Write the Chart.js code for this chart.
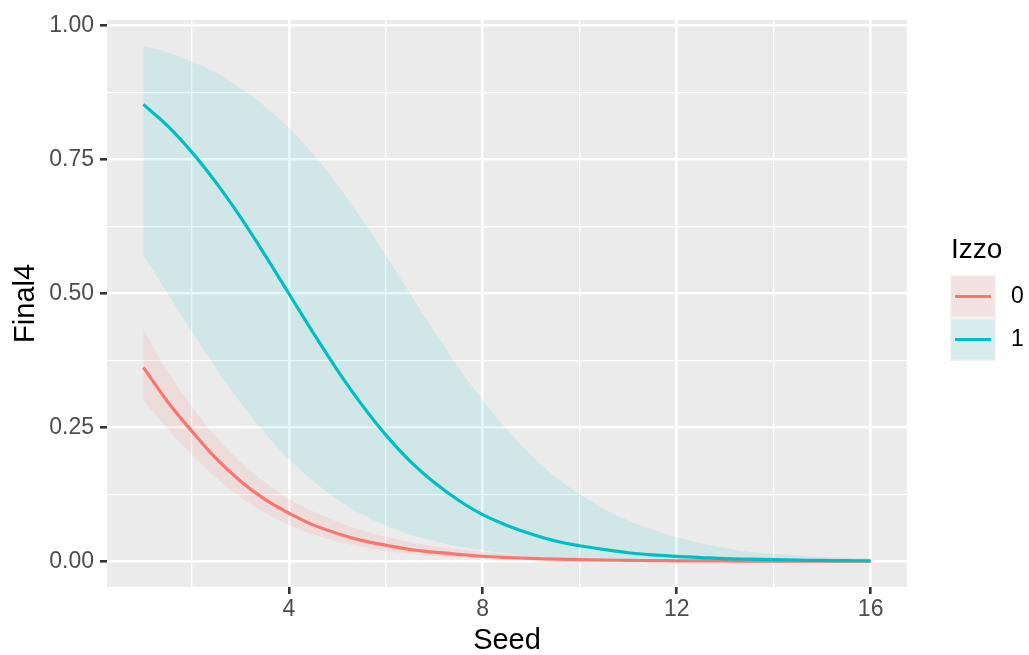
<!DOCTYPE html>
<html>
<head>
<meta charset="utf-8">
<script src="https://cdn.jsdelivr.net/npm/chart.js@4"></script>
<style>
  body { margin: 0; background: #ffffff; }
</style>
</head>
<body>
<canvas id="chart" width="1029" height="655"></canvas>
<script>
// Seed values the curves are drawn at
const seed = [1, 1.5, 2, 2.5, 3, 3.5, 4, 4.5, 5, 5.5, 6, 6.5, 7, 7.5, 8, 8.5,
  9, 9.5, 10, 10.5, 11, 11.5, 12, 12.5, 13, 13.5, 14, 14.5, 15, 15.5, 16]

// Izzo = 0
const fit0 = [0.362, 0.298, 0.243, 0.192, 0.150, 0.116, 0.090, 0.068, 0.052, 0.039, 0.030, 0.022,
  0.017, 0.013, 0.0094, 0.0071, 0.0053, 0.0040, 0.0030, 0.0022, 0.0017, 0.0013, 0.0009, 0.0007,
  0.0005, 0.0004, 0.0003, 0.0002, 0.0002, 0.0001, 0.0001]
const low0 = [0.300, 0.247, 0.199, 0.156, 0.120, 0.091, 0.068, 0.050, 0.037, 0.027, 0.019, 0.014,
  0.010, 0.007, 0.005, 0.0036, 0.0026, 0.0018, 0.0013, 0.0009, 0.0006, 0.0005, 0.0003, 0.0002,
  0.0002, 0.0001, 0.0001, 0, 0, 0, 0]
const high0 = [0.433, 0.354, 0.289, 0.232, 0.185, 0.148, 0.117, 0.093, 0.074, 0.058, 0.046, 0.036,
  0.028, 0.022, 0.018, 0.014, 0.011, 0.0085, 0.0067, 0.0053, 0.0041, 0.0032, 0.0025, 0.0020,
  0.0016, 0.0012, 0.0010, 0.0008, 0.0006, 0.0005, 0.0004]

// Izzo = 1
const fit1 = [0.853, 0.813, 0.764, 0.707, 0.643, 0.573, 0.500, 0.427, 0.357, 0.293, 0.236, 0.187,
  0.147, 0.114, 0.087, 0.067, 0.051, 0.038, 0.029, 0.022, 0.016, 0.012, 0.009, 0.007,
  0.005, 0.004, 0.003, 0.002, 0.0016, 0.0012, 0.0009]
const low1 = [0.572, 0.500, 0.429, 0.361, 0.297, 0.240, 0.191, 0.150, 0.116, 0.088, 0.067, 0.050,
  0.038, 0.028, 0.021, 0.015, 0.011, 0.008, 0.006, 0.0044, 0.0032, 0.0024, 0.0017, 0.0012,
  0.0009, 0.0007, 0.0005, 0.0004, 0.0003, 0.0002, 0.0001]
const high1 = [0.962, 0.950, 0.933, 0.912, 0.884, 0.850, 0.809, 0.760, 0.703, 0.639, 0.571, 0.500,
  0.430, 0.362, 0.301, 0.246, 0.198, 0.158, 0.125, 0.098, 0.076, 0.059, 0.045, 0.034,
  0.025, 0.018, 0.014, 0.011, 0.008, 0.0065, 0.005]

const xTicks = [2, 4, 6, 8, 10, 12, 14, 16]
const yTicks = [0, 0.125, 0.25, 0.375, 0.5, 0.625, 0.75, 0.875, 1]
const groups = ['0', '1']

const red = '#F8766D'
const teal = '#00BFC4'
const redBand = 'rgba(248,118,109,0.12)'
const tealBand = 'rgba(0,191,196,0.11)'

const pts = arr => arr.map((v, i) => ({x: seed[i], y: v}))

Chart.defaults.font.family = "'Liberation Sans', Arial, sans-serif"

const isMajorX = v => v % 4 === 0
const isMajorY = v => Math.abs(v * 4 - Math.round(v * 4)) < 1e-9

const panelBg = {
  id: 'panelBg',
  beforeDraw(chart) {
    const {ctx, chartArea: a} = chart
    ctx.save()
    ctx.fillStyle = '#EBEBEB'
    ctx.fillRect(a.left, a.top, a.right - a.left, a.bottom - a.top)
    ctx.restore()
  }
}

// ggplot style legend on the right
const sideLegend = {
  id: 'sideLegend',
  afterDraw(chart) {
    const ctx = chart.ctx
    ctx.save()
    ctx.fillStyle = '#000000'
    ctx.font = "28px 'Liberation Sans', Arial, sans-serif"
    ctx.textBaseline = 'alphabetic'
    ctx.textAlign = 'left'
    ctx.fillText('Izzo', 951, 258)
    const cols = [red, teal]
    const bands = [redBand, tealBand]
    groups.forEach((g, i) => {
      const top = 275 + i * 43
      ctx.fillStyle = '#F2F2F2'
      ctx.fillRect(950, top, 46, 43)
      ctx.fillStyle = bands[i]
      ctx.fillRect(951.5, top + 1.5, 43, 40)
      ctx.strokeStyle = cols[i]
      ctx.lineWidth = 3.2
      ctx.beginPath()
      ctx.moveTo(955, top + 21.5)
      ctx.lineTo(991, top + 21.5)
      ctx.stroke()
      ctx.fillStyle = '#000000'
      ctx.font = "23px 'Liberation Sans', Arial, sans-serif"
      ctx.textBaseline = 'middle'
      ctx.fillText(g, 1011, top + 22)
    })
    ctx.restore()
  }
}

const config = {
  type: 'line',
  data: {
    datasets: [
      {data: pts(high0), fill: '+1', backgroundColor: redBand, borderWidth: 0, pointRadius: 0, order: 2},
      {data: pts(low0), fill: false, borderWidth: 0, pointRadius: 0, order: 2},
      {data: pts(high1), fill: '+1', backgroundColor: tealBand, borderWidth: 0, pointRadius: 0, order: 2},
      {data: pts(low1), fill: false, borderWidth: 0, pointRadius: 0, order: 2},
      {label: '1', data: pts(fit1), borderColor: teal, borderWidth: 3.2, pointRadius: 0, fill: false, order: 0},
      {label: '0', data: pts(fit0), borderColor: red, borderWidth: 3.2, pointRadius: 0, fill: false, order: 0}
    ]
  },
  options: {
    responsive: false,
    animation: false,
    tension: 0.35,
    layout: {padding: {left: 0, right: 122, top: 14, bottom: 0}},
    plugins: {
      legend: {display: false},
      tooltip: {enabled: false}
    },
    scales: {
      x: {
        type: 'linear',
        min: 0.25,
        max: 16.75,
        afterBuildTicks: s => { s.ticks = xTicks.map(v => ({value: v})) },
        afterFit: s => { s.height = 68 },
        border: {display: false},
        grid: {
          color: '#FFFFFF',
          lineWidth: c => isMajorX(c.tick.value) ? 2.6 : 1.3,
          tickColor: c => isMajorX(c.tick.value) ? '#333333' : 'rgba(0,0,0,0)',
          tickWidth: 2.6,
          tickLength: 7
        },
        ticks: {
          color: '#4D4D4D',
          font: {size: 23},
          padding: 2,
          maxRotation: 0,
          autoSkip: false,
          callback: v => isMajorX(v) ? String(v) : ''
        },
        title: {
          display: true,
          text: 'Seed',
          color: '#000000',
          font: {size: 29, lineHeight: 1},
          padding: {top: 0, bottom: 0}
        }
      },
      y: {
        min: -0.048,
        max: 1.011,
        afterBuildTicks: s => { s.ticks = yTicks.map(v => ({value: v})) },
        afterFit: s => { s.width = 107 },
        border: {display: false},
        grid: {
          color: '#FFFFFF',
          lineWidth: c => isMajorY(c.tick.value) ? 2.6 : 1.3,
          tickColor: c => isMajorY(c.tick.value) ? '#333333' : 'rgba(0,0,0,0)',
          tickWidth: 2.6,
          tickLength: 7
        },
        ticks: {
          color: '#4D4D4D',
          font: {size: 23},
          padding: 6,
          autoSkip: false,
          callback: v => isMajorY(v) ? v.toFixed(2) : ''
        },
        title: {
          display: true,
          text: 'Final4',
          color: '#000000',
          font: {size: 29, lineHeight: 1},
          padding: {top: 11, bottom: 0}
        }
      }
    }
  },
  plugins: [panelBg, sideLegend]
}

const chart = new Chart(document.getElementById('chart'), config)
</script>
</body>
</html>
